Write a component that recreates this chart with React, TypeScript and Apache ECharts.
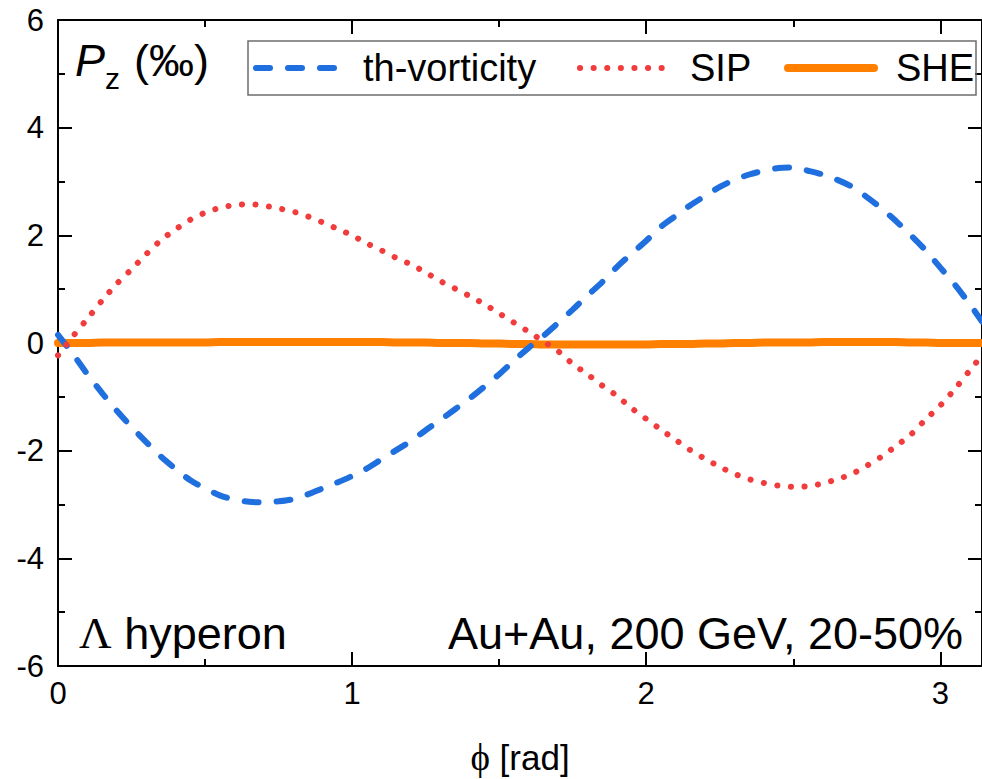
import React, { useEffect, useRef } from 'react';
import * as echarts from 'echarts';

const phi = [
  0, 0.05, 0.1, 0.15, 0.2, 0.25, 0.3, 0.35, 0.4, 0.45,
  0.5, 0.55, 0.6, 0.65, 0.7, 0.75, 0.8, 0.85, 0.9, 0.95,
  1.0, 1.05, 1.1, 1.15, 1.2, 1.25, 1.3, 1.35, 1.4, 1.45,
  1.5, 1.55, 1.6, 1.65, 1.7, 1.75, 1.8, 1.85, 1.9, 1.95,
  2.0, 2.05, 2.1, 2.15, 2.2, 2.25, 2.3, 2.35, 2.4, 2.45,
  2.5, 2.55, 2.6, 2.65, 2.7, 2.75, 2.8, 2.85, 2.9, 2.95,
  3.0, 3.05, 3.1, 3.14159,
];

const thVorticity = [
  0.15, -0.2, -0.58, -0.93, -1.26, -1.56, -1.84, -2.11, -2.34, -2.55,
  -2.7, -2.83, -2.91, -2.95, -2.96, -2.94, -2.9, -2.81, -2.7, -2.59,
  -2.47, -2.33, -2.16, -1.99, -1.82, -1.62, -1.43, -1.23, -1.03, -0.81,
  -0.58, -0.33, -0.09, 0.13, 0.37, 0.62, 0.88, 1.13, 1.41, 1.66,
  1.9, 2.16, 2.36, 2.56, 2.73, 2.9, 3.03, 3.13, 3.2, 3.25,
  3.26, 3.2, 3.13, 3.03, 2.9, 2.71, 2.5, 2.26, 2.0, 1.72,
  1.4, 1.08, 0.72, 0.4,
];

const sip = [
  -0.23, 0.12, 0.45, 0.79, 1.1, 1.37, 1.65, 1.91, 2.11, 2.29,
  2.42, 2.51, 2.56, 2.58, 2.55, 2.5, 2.44, 2.35, 2.24, 2.12,
  2.0, 1.85, 1.72, 1.58, 1.46, 1.31, 1.15, 1.01, 0.87, 0.72,
  0.55, 0.38, 0.21, 0.03, -0.15, -0.39, -0.58, -0.79, -0.98, -1.21,
  -1.41, -1.61, -1.8, -1.99, -2.15, -2.3, -2.43, -2.53, -2.6, -2.65,
  -2.67, -2.66, -2.61, -2.53, -2.43, -2.28, -2.11, -1.91, -1.7, -1.42,
  -1.16, -0.85, -0.51, -0.23,
];

const she = [
  0.0, 0.0, 0.0, 0.01, 0.01, 0.01, 0.01, 0.01, 0.01, 0.01,
  0.01, 0.02, 0.02, 0.02, 0.02, 0.02, 0.02, 0.02, 0.02, 0.02,
  0.02, 0.02, 0.02, 0.01, 0.01, 0.01, 0.0, 0.0, 0.0, -0.01,
  -0.01, -0.02, -0.02, -0.03, -0.03, -0.03, -0.03, -0.03, -0.03, -0.03,
  -0.03, -0.02, -0.02, -0.02, -0.01, -0.01, 0.0, 0.0, 0.01, 0.01,
  0.01, 0.01, 0.02, 0.02, 0.02, 0.02, 0.02, 0.02, 0.01, 0.01,
  0.0, 0.0, 0.0, 0.0,
];

const seriesNames = ['th-vorticity', 'SIP', 'SHE'];
const xMajorTicks = [0, 1, 2, 3];
const xMinorTicks = [0.5, 1.5, 2.5];
const yMin = -6;
const yMax = 6;
const yStep = 2;

const SANS = '"Liberation Sans", Arial, Helvetica, sans-serif';
const SERIF = '"Liberation Serif", "DejaVu Serif", "Times New Roman", serif';

const BLUE = '#1f6fde';
const RED = '#f03c3c';
const ORANGE = '#ff8000';

const blueLine = { color: BLUE, width: 6, type: [14, 18], cap: 'round' };
const redLine = { color: RED, width: 6, type: [0.1, 13.5], cap: 'round' };
const orangeLine = { color: ORANGE, width: 8, type: 'solid', cap: 'round' };

export default function App() {
  const ref = useRef<HTMLDivElement>(null);

  useEffect(() => {
    if (!ref.current) return;
    const chart = echarts.init(ref.current, null, { renderer: 'svg' });
    const pairs = (ys: number[]) => phi.map((x, i) => [x, ys[i]]);
    const xMax = phi[phi.length - 1];

    const line = { show: true, onZero: false, lineStyle: { color: '#000', width: 2 } };
    const noLine = { show: false, onZero: false };

    const xAxisBase = (position: string, ticks: number[], len: number, withLine: boolean, withLabel: boolean) => ({
      type: 'value',
      position,
      min: 0,
      max: xMax,
      axisLine: withLine ? line : noLine,
      axisTick: {
        show: true,
        inside: true,
        length: len,
        customValues: ticks,
        lineStyle: { color: '#000', width: 2 },
      },
      axisLabel: withLabel
        ? {
            show: true,
            customValues: xMajorTicks,
            fontSize: 31,
            fontFamily: SANS,
            color: '#000',
            margin: 12,
          }
        : { show: false },
      splitLine: { show: false },
    });

    const yAxisBase = (position: string, withLabel: boolean) => ({
      type: 'value',
      position,
      min: yMin,
      max: yMax,
      interval: yStep,
      axisLine: line,
      axisTick: { show: true, inside: true, length: 14, lineStyle: { color: '#000', width: 2 } },
      minorTick: { show: true, splitNumber: 2, length: 7, lineStyle: { color: '#000', width: 2 } },
      axisLabel: withLabel
        ? { show: true, fontSize: 31, fontFamily: SANS, color: '#000', margin: 14 }
        : { show: false },
      splitLine: { show: false },
      minorSplitLine: { show: false },
    });

    const legendBase = (name: string, left: number, width: number, pad: number, ls: any) => ({
      data: [name],
      left,
      top: 48,
      padding: 0,
      itemWidth: width,
      itemHeight: 14,
      selectedMode: false,
      lineStyle: ls,
      itemStyle: { opacity: 0 },
      textStyle: {
        fontSize: 38,
        fontFamily: SANS,
        color: '#000',
        lineHeight: 40,
        padding: [0, 0, 0, pad],
      },
    });

    chart.setOption({
      animation: false,
      backgroundColor: '#fff',
      grid: { left: 58, top: 20, width: 927, height: 646, containLabel: false },
      xAxis: [
        xAxisBase('bottom', xMajorTicks, 14, true, true),
        xAxisBase('bottom', xMinorTicks, 7, false, false),
        xAxisBase('top', xMajorTicks, 14, true, false),
        xAxisBase('top', xMinorTicks, 7, false, false),
      ],
      yAxis: [yAxisBase('left', true), yAxisBase('right', false)],
      legend: [
        legendBase(seriesNames[0], 253, 90, 12, blueLine),
        legendBase(seriesNames[1], 577, 92, 13, redLine),
        legendBase(seriesNames[2], 784, 86, 17, orangeLine),
      ],
      series: [
        {
          name: seriesNames[2],
          type: 'line',
          data: pairs(she),
          symbol: 'none',
          smooth: 0.3,
          lineStyle: orangeLine,
          itemStyle: { color: ORANGE },
          z: 2,
        },
        {
          name: seriesNames[0],
          type: 'line',
          data: pairs(thVorticity),
          symbol: 'none',
          smooth: 0.3,
          lineStyle: blueLine,
          itemStyle: { color: BLUE },
          z: 3,
        },
        {
          name: seriesNames[1],
          type: 'line',
          data: pairs(sip),
          symbol: 'none',
          smooth: 0.3,
          lineStyle: redLine,
          itemStyle: { color: RED },
          z: 4,
        },
      ],
      graphic: [
        {
          type: 'rect',
          shape: { x: 248, y: 41, width: 728, height: 54 },
          style: { fill: 'none', stroke: '#6e6e6e', lineWidth: 1.5 },
          z: 10,
        },
        {
          type: 'text',
          x: 75,
          y: 60,
          style: {
            text: 'P',
            fontSize: 45,
            fontStyle: 'italic',
            fontFamily: SANS,
            fill: '#000',
            verticalAlign: 'middle',
            textVerticalAlign: 'middle',
          },
          z: 10,
        },
        {
          type: 'text',
          x: 105,
          y: 78,
          style: {
            text: 'z',
            fontSize: 30,
            fontFamily: SANS,
            fill: '#000',
            verticalAlign: 'middle',
            textVerticalAlign: 'middle',
          },
          z: 10,
        },
        {
          type: 'text',
          x: 134,
          y: 60,
          style: {
            text: '(‰)',
            fontSize: 45,
            fontFamily: SANS,
            fill: '#000',
            verticalAlign: 'middle',
            textVerticalAlign: 'middle',
          },
          z: 10,
        },
        {
          type: 'text',
          x: 79,
          y: 633,
          style: {
            text: '{g|Λ} hyperon',
            rich: { g: { fontFamily: SERIF, fontSize: 45, fill: '#000' } },
            fontSize: 45,
            fontFamily: SANS,
            fill: '#000',
            verticalAlign: 'middle',
            textVerticalAlign: 'middle',
          },
          z: 10,
        },
        {
          type: 'text',
          x: 963,
          y: 633,
          style: {
            text: 'Au+Au, 200 GeV, 20-50%',
            fontSize: 45,
            fontFamily: SANS,
            fill: '#000',
            align: 'right',
            textAlign: 'right',
            verticalAlign: 'middle',
            textVerticalAlign: 'middle',
          },
          z: 10,
        },
        {
          type: 'text',
          x: 520,
          y: 757,
          style: {
            text: '{g|ϕ} [rad]',
            rich: { g: { fontFamily: SERIF, fontSize: 37, fill: '#000' } },
            fontSize: 35,
            fontFamily: SANS,
            fill: '#000',
            align: 'center',
            textAlign: 'center',
            verticalAlign: 'middle',
            textVerticalAlign: 'middle',
          },
          z: 10,
        },
      ],
    });

    return () => chart.dispose();
  }, []);

  return (
    <div
      ref={ref}
      style={{ position: 'absolute', left: 0, top: 0, width: 982, height: 779, overflow: 'hidden' }}
    />
  );
}
